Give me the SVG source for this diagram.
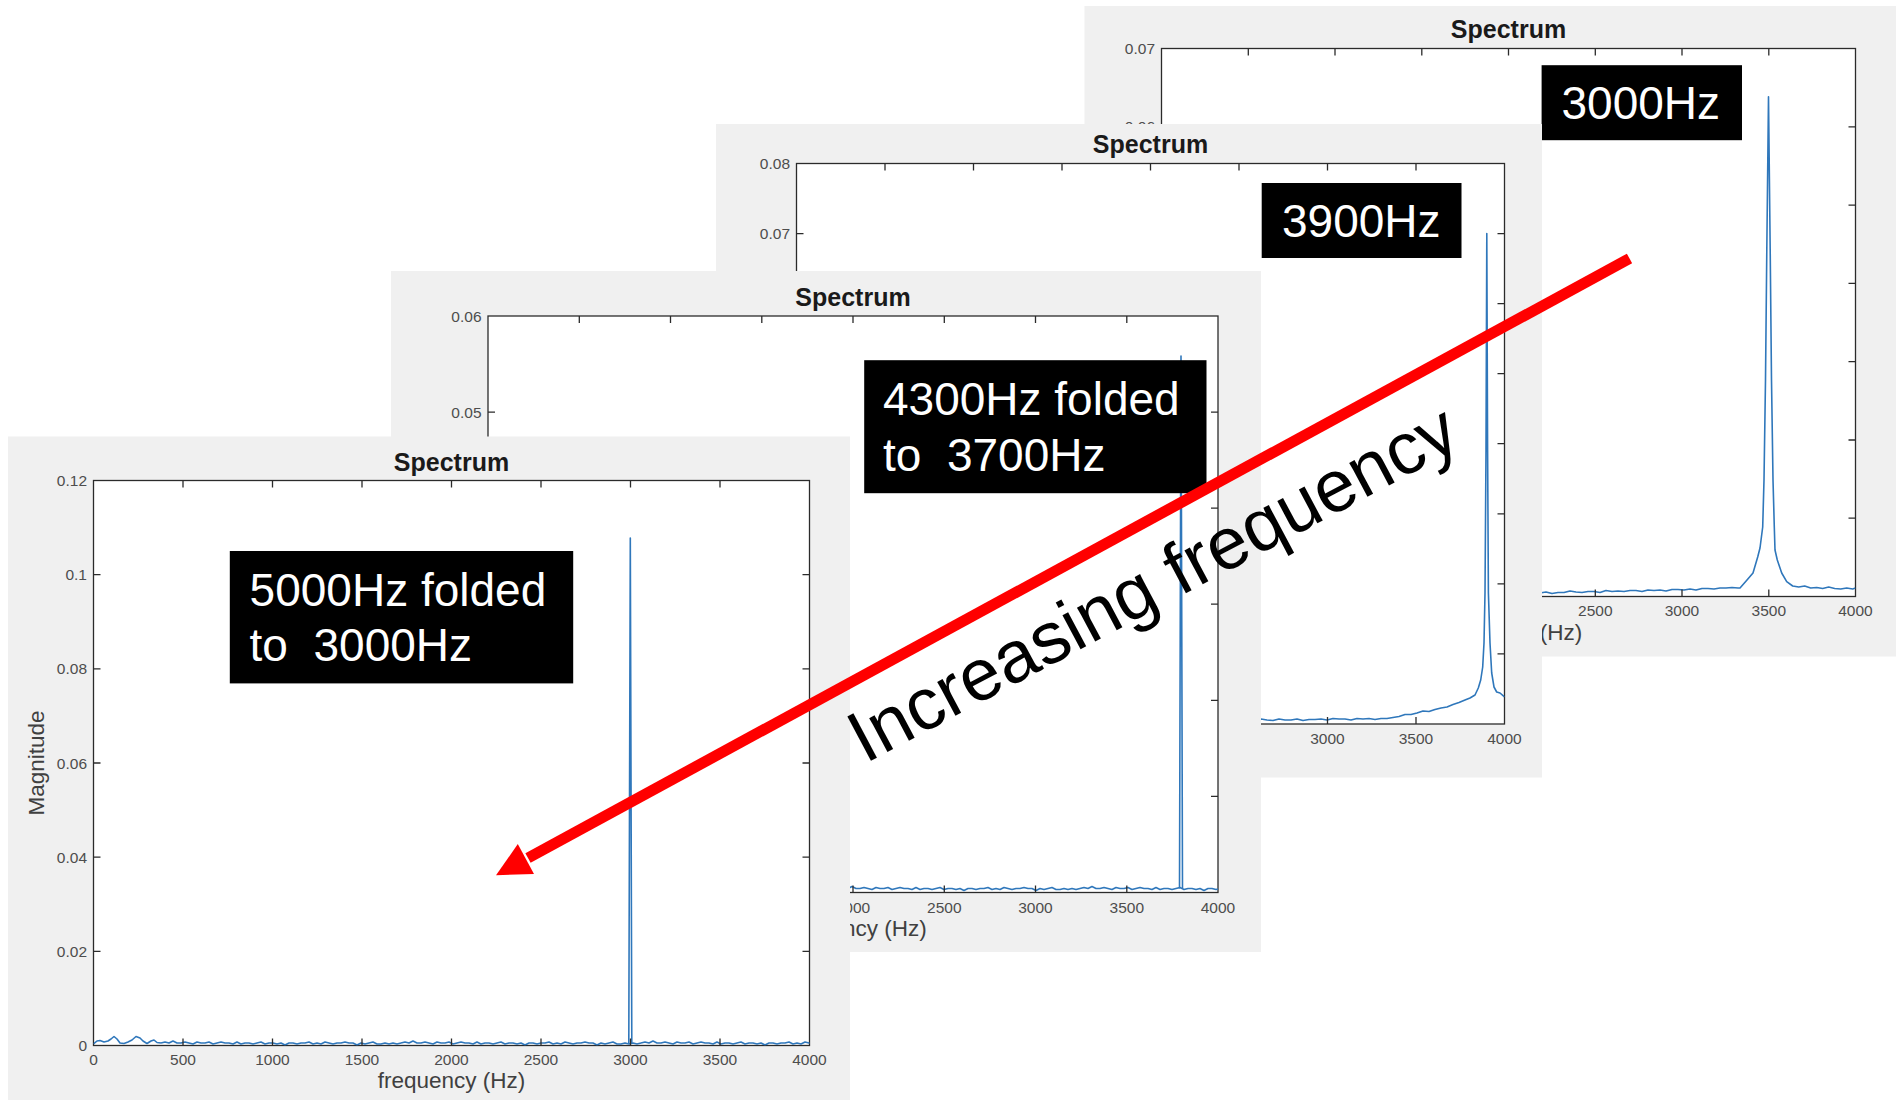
<svg xmlns="http://www.w3.org/2000/svg" xmlns:xlink="http://www.w3.org/1999/xlink" width="1896" height="1100" viewBox="0 0 1896 1100">
<style>
.fig{fill:#f0f0f0}
.ax{fill:#fff;stroke:#2b2b2b;stroke-width:1.3}
.tk{fill:none;stroke:#2b2b2b;stroke-width:1.3}
.tl{font-family:"Liberation Sans",Arial,Helvetica,sans-serif;font-size:15.5px;fill:#4d4d4d}
.tx{text-anchor:middle}
.ty{text-anchor:end}
.ttl{font-family:"Liberation Sans",Arial,Helvetica,sans-serif;font-size:25px;font-weight:bold;fill:#1a1a1a;text-anchor:middle}
.xl{font-family:"Liberation Sans",Arial,Helvetica,sans-serif;font-size:22.5px;fill:#404040;text-anchor:middle}
.sig{fill:none;stroke:#2f77bb;stroke-width:1.6;stroke-linejoin:round}
.lb{fill:#000}
.lt{font-family:"Liberation Sans",Arial,Helvetica,sans-serif;font-size:46px;fill:#fff;white-space:pre}
.arr{fill:none;stroke:#ff0000;stroke-width:11}
.inc{font-family:"Liberation Sans",Arial,Helvetica,sans-serif;font-size:73px;fill:#000}
</style>
<defs>
<path id="nz" d="M0,0 l4,-1 4,1 4,-2 4,2 4,0 4,-1 4,1 4,1 4,-2 4,1 4,0 4,-1 4,2 4,-1 4,-1 4,1 4,0 4,1 4,-2 4,2 4,-1 4,0 4,1 4,-1 4,-1 4,2 4,-1 4,0 4,1 4,-1 4,2 4,-2 4,0 4,1 4,-1 4,0 4,-1 4,2 4,-1 4,1 4,-2 4,1 4,1 4,-1 4,0 4,-1 4,1 4,0 4,2 4,-2 4,1 4,-1 4,-1 4,2 4,0 4,-1 4,1 4,-1 4,1 4,-1"/>
<clipPath id="c1"><rect x="1161.5" y="48.5" width="694" height="548"/></clipPath>
<clipPath id="c2"><rect x="796.5" y="163.5" width="708" height="560.5"/></clipPath>
<clipPath id="c3"><rect x="488" y="316" width="730" height="576.5"/></clipPath>
<clipPath id="c4"><rect x="93.5" y="480.5" width="716" height="565"/></clipPath>
<clipPath id="c1top"><rect x="1084" y="100" width="80" height="24"/></clipPath>
</defs>
<rect width="1896" height="1100" fill="#fff"/>

<g id="panel-3000hz">
<rect class="fig" x="1084.5" y="6" width="811.5" height="650.5"/>
<rect class="ax" x="1161.5" y="48.5" width="694" height="548"/>
<g class="sig" clip-path="url(#c1)">
<path d="M1540,593 l6,-1 6,1.5 6,-1 6,0 6,-1.5 6,1 6,0.5 6,-1 6,0 6,1 6,-2 6,1 6,-0.5 6,0.5 6,-1 6,0 6,1 6,-1.5 6,0.5 6,-0.5 6,1 6,-1.5 6,0 6,0.5 6,-1 6,1 6,-1.5 6,0 6,0.5 6,-1 6,0 6,-0.5 6,0.5 L1740,588 1747,580 1753,573 1757.7,557 1760,548 1762.7,527 1764,480 1765.5,380 1766.8,250 1768.5,96.8 1770.2,250 1771.5,380 1773,480 1774.3,527 1775,550 1777.3,560 1781.7,573 1786.7,581.7 1792.7,586 l6,1 6,-1 6,2 6,-0.5 6,1 6,-1.5 6,1.5 6,0.5 6,-1 6,1 L1855.5,588"/>
</g>
<path class="tk" d="M1248.3,596.5v-7M1248.3,48.5v7M1335,596.5v-7M1335,48.5v7M1421.8,596.5v-7M1421.8,48.5v7M1508.5,596.5v-7M1508.5,48.5v7M1595.3,596.5v-7M1595.3,48.5v7M1682,596.5v-7M1682,48.5v7M1768.8,596.5v-7M1768.8,48.5v7M1161.5,126.8h7M1855.5,126.8h-7M1161.5,205.1h7M1855.5,205.1h-7M1161.5,283.4h7M1855.5,283.4h-7M1161.5,361.7h7M1855.5,361.7h-7M1161.5,440h7M1855.5,440h-7M1161.5,518.2h7M1855.5,518.2h-7"/>
<text class="tl ty" x="1155" y="54">0.07</text>
<text class="tl ty" x="1155" y="132.3" clip-path="url(#c1top)">0.06</text>
<text class="tl tx" x="1595.3" y="616">2500</text>
<text class="tl tx" x="1682" y="616">3000</text>
<text class="tl tx" x="1768.8" y="616">3500</text>
<text class="tl tx" x="1855.5" y="616">4000</text>
<text class="xl" x="1508.5" y="639.5">frequency (Hz)</text>
<text class="ttl" x="1508.5" y="38">Spectrum</text>
<rect class="lb" x="1541.6" y="65.2" width="200.4" height="75"/>
<text class="lt" x="1561.5" y="119">3000Hz</text>
</g>

<g id="panel-3900hz">
<rect class="fig" x="716" y="124" width="826" height="653.5"/>
<rect class="ax" x="796.5" y="163.5" width="708" height="560.5"/>
<g class="sig" clip-path="url(#c2)">
<path d="M1255,720 l6,-1 6,1 6,0.5 6,-1.5 6,1 6,0 6,-1 6,1.5 6,-1 6,0 6,-0.5 6,1 6,-1.5 6,0.5 6,0 6,1 6,-1.5 6,0.5 6,-0.5 6,1 6,-1 6,0 6,-1 6,-1 6,-2 6,0 6,-1.5 6,-2 6,0.5 6,-2 6,-1.5 6,-1 6,-2.5 6,-2 6,-2.5 L1470,698 1475,695 1478.3,688 1480.7,680 1482.7,667 1484,643 1485,593 1486,450 1486.8,233.6 1487.6,450 1488.4,593 1490,643 1491.7,673 1494,687 1496.7,692 1500,693 1504.5,697"/>
</g>
<path class="tk" d="M885,724v-7M885,163.5v7M973.5,724v-7M973.5,163.5v7M1062,724v-7M1062,163.5v7M1150.5,724v-7M1150.5,163.5v7M1239,724v-7M1239,163.5v7M1327.5,724v-7M1327.5,163.5v7M1416,724v-7M1416,163.5v7M796.5,233.6h7M1504.5,233.6h-7M796.5,303.6h7M1504.5,303.6h-7M796.5,373.7h7M1504.5,373.7h-7M796.5,443.7h7M1504.5,443.7h-7M796.5,513.8h7M1504.5,513.8h-7M796.5,583.9h7M1504.5,583.9h-7M796.5,653.9h7M1504.5,653.9h-7"/>
<text class="tl ty" x="790" y="169">0.08</text>
<text class="tl ty" x="790" y="239.1">0.07</text>
<text class="tl tx" x="1327.5" y="743.5">3000</text>
<text class="tl tx" x="1416" y="743.5">3500</text>
<text class="tl tx" x="1504.5" y="743.5">4000</text>
<text class="ttl" x="1150.5" y="153">Spectrum</text>
<rect class="lb" x="1261.7" y="183" width="199.8" height="75"/>
<text class="lt" x="1282" y="237">3900Hz</text>
</g>

<g id="panel-4300hz">
<rect class="fig" x="391" y="271" width="870" height="681"/>
<rect class="ax" x="488" y="316" width="730" height="576.5"/>
<g class="sig" clip-path="url(#c3)">
<use xlink:href="#nz" x="840" y="888.5"/>
<use xlink:href="#nz" x="1080" y="888.5"/>
<path d="M1179.5,888.5 L1181,356 L1182.5,888.5"/>
</g>
<path class="tk" d="M579.3,892.5v-7M579.3,316v7M670.5,892.5v-7M670.5,316v7M761.8,892.5v-7M761.8,316v7M853,892.5v-7M853,316v7M944.3,892.5v-7M944.3,316v7M1035.5,892.5v-7M1035.5,316v7M1126.8,892.5v-7M1126.8,316v7M488,412.1h7M1218,412.1h-7M488,508.2h7M1218,508.2h-7M488,604.2h7M1218,604.2h-7M488,700.3h7M1218,700.3h-7M488,796.4h7M1218,796.4h-7"/>
<text class="tl ty" x="481.5" y="321.5">0.06</text>
<text class="tl ty" x="481.5" y="417.6">0.05</text>
<text class="tl tx" x="853" y="912.5">2000</text>
<text class="tl tx" x="944.3" y="912.5">2500</text>
<text class="tl tx" x="1035.5" y="912.5">3000</text>
<text class="tl tx" x="1126.8" y="912.5">3500</text>
<text class="tl tx" x="1218" y="912.5">4000</text>
<text class="xl" x="853" y="936">frequency (Hz)</text>
<text class="ttl" x="853" y="305.5">Spectrum</text>
<rect class="lb" x="864.2" y="360.2" width="342.3" height="133"/>
<text class="lt" x="883" y="415">4300Hz folded</text>
<text class="lt" x="883" y="470.5">to  3700Hz</text>
</g>

<g id="panel-5000hz">
<rect class="fig" x="8" y="436.5" width="842" height="663.5"/>
<rect class="ax" x="93.5" y="480.5" width="716" height="565"/>
<g class="sig" clip-path="url(#c4)">
<path d="M93.5,1044 L97,1041 100,1040.5 104,1042 108,1041 111,1039 114,1036.5 117,1039 120,1043 124,1043.5 128,1042 132,1040 136,1036.5 140,1038 143,1041 147,1043.5 151,1041 154,1040 157,1042.5 161,1043"/>
<use xlink:href="#nz" x="161" y="1043"/>
<use xlink:href="#nz" x="401" y="1043"/>
<use xlink:href="#nz" x="641" y="1043"/>
<path d="M628.8,1043.5 L630.3,538 L631.8,1043.5"/>
</g>
<path class="tk" d="M183,1045.5v-7M183,480.5v7M272.5,1045.5v-7M272.5,480.5v7M362,1045.5v-7M362,480.5v7M451.5,1045.5v-7M451.5,480.5v7M541,1045.5v-7M541,480.5v7M630.5,1045.5v-7M630.5,480.5v7M720,1045.5v-7M720,480.5v7M93.5,574.7h7M809.5,574.7h-7M93.5,668.8h7M809.5,668.8h-7M93.5,763h7M809.5,763h-7M93.5,857.2h7M809.5,857.2h-7M93.5,951.3h7M809.5,951.3h-7"/>
<text class="tl ty" x="87" y="486">0.12</text>
<text class="tl ty" x="87" y="580.2">0.1</text>
<text class="tl ty" x="87" y="674.3">0.08</text>
<text class="tl ty" x="87" y="768.5">0.06</text>
<text class="tl ty" x="87" y="862.7">0.04</text>
<text class="tl ty" x="87" y="956.8">0.02</text>
<text class="tl ty" x="87" y="1051">0</text>
<text class="tl tx" x="93.5" y="1065">0</text>
<text class="tl tx" x="183" y="1065">500</text>
<text class="tl tx" x="272.5" y="1065">1000</text>
<text class="tl tx" x="362" y="1065">1500</text>
<text class="tl tx" x="451.5" y="1065">2000</text>
<text class="tl tx" x="541" y="1065">2500</text>
<text class="tl tx" x="630.5" y="1065">3000</text>
<text class="tl tx" x="720" y="1065">3500</text>
<text class="tl tx" x="809.5" y="1065">4000</text>
<text class="xl" x="451.5" y="1088">frequency (Hz)</text>
<text class="xl" x="44" y="763" transform="rotate(-90 44 763)">Magnitude</text>
<text class="ttl" x="451.5" y="470.5">Spectrum</text>
<rect class="lb" x="229.8" y="551" width="343.4" height="132.4"/>
<text class="lt" x="249.6" y="605.5">5000Hz folded</text>
<text class="lt" x="249.6" y="661">to  3000Hz</text>
</g>

<g id="connectors">
<line class="arr" x1="1629.5" y1="258.5" x2="528" y2="858"/>
<polygon points="496,875.3 517.8,844.1 534,873.9" fill="#ff0000"/>
</g>
<g id="annotation">
<text class="inc" x="865" y="764" transform="rotate(-28 865 764)">Increasing frequency</text>
</g>
</svg>
